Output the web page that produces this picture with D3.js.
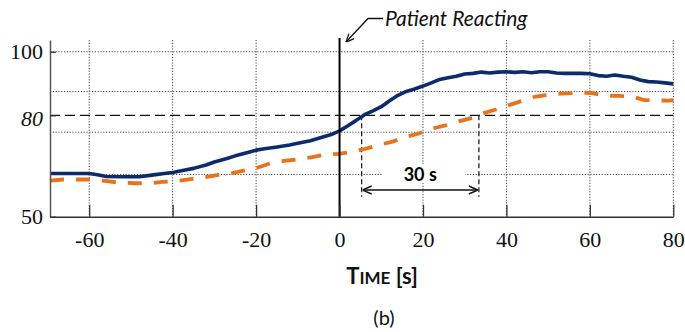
<!DOCTYPE html>
<html>
<head>
<meta charset="utf-8">
<script src="https://cdn.jsdelivr.net/npm/d3@7"></script>
<style>
body { margin: 0; background: #fff; }
</style>
</head>
<body>
<div id="chart"></div>
<script>
// time [s] / value pairs
var navyT = [-69.4, -65, -60, -58, -56, -52, -48, -45, -42, -40, -37, -35, -32, -30, -27, -25, -22, -20, -18, -15, -12, -10, -7, -5, -2, 0, 2, 4, 6, 8, 10, 12, 14, 16, 18, 20, 22, 24, 26, 28, 30, 32, 34, 36, 38, 40, 42, 44, 46, 48, 50, 52, 54, 56, 58, 60, 62, 64, 66, 68, 70, 72, 74, 76, 78, 80];
var navyV = [62.8, 62.8, 62.8, 62.4, 61.9, 61.8, 61.8, 62.3, 62.8, 63.1, 63.8, 64.3, 65.3, 66.2, 67.2, 68.0, 69.0, 69.7, 70.1, 70.6, 71.2, 71.7, 72.5, 73.2, 74.3, 75.4, 76.9, 78.5, 80.2, 81.4, 82.7, 84.6, 86.3, 87.5, 88.3, 89.2, 90.2, 91.3, 91.8, 92.3, 93.0, 93.2, 93.6, 93.3, 93.6, 93.7, 93.5, 93.7, 93.4, 93.7, 93.7, 93.3, 93.2, 93.2, 93.2, 93.1, 92.5, 92.3, 92.7, 92.3, 92.0, 91.1, 90.6, 90.5, 90.2, 89.9];

var orangeT = [-69.4, -66.2, -60, -55.7, -53, -49, -45.4, -42.5, -39.4, -36.5, -33.4, -29.3, -25.7, -23, -19.7, -16.6, -13.4, -10, -6.5, -3.8, -0.2, 3.1, 6.2, 9.4, 12.7, 15.8, 19, 22.3, 25.4, 28.6, 31.9, 34.6, 37.9, 40.6, 43.9, 47, 50.6, 53, 56.6, 59, 60.7, 63.4, 67, 69.9, 73, 75.8, 79, 80];
var orangeV = [60.7, 61.0, 61.0, 60.5, 60.1, 59.9, 59.9, 60.3, 60.5, 61.0, 61.5, 62.3, 62.9, 63.6, 64.5, 65.8, 66.5, 67.0, 67.6, 68.3, 68.6, 69.2, 70.1, 71.2, 72.2, 73.6, 74.6, 76.1, 77.0, 78.2, 79.3, 80.7, 82.0, 83.2, 84.6, 85.9, 86.5, 86.8, 87.0, 87.1, 87.0, 86.2, 86.1, 86.0, 84.8, 84.7, 84.6, 84.8];

var xTicks = [-60, -40, -20, 0, 20, 40, 60, 80];
var yTicks = [50, 80, 100];
var yGrid = [62.5, 75, 87.5, 100];
var threshold = 80;
var reactT = 0;
var span = [5.3, 33.4];   // 30 s delay annotation

var width = 685, height = 332;

var svg = d3.select("#chart")
  .append("svg")
    .attr("width", width)
    .attr("height", height);

var x = d3.scaleLinear()
  .domain([-69.4, 80])
  .range([50, 673.3]);

// axis is not evenly spaced: 50 / 80 / 100 pinned where the figure has them
var y = d3.scaleLinear()
  .domain([50, 80, 103.7])
  .range([216.7, 115.3, 40]);

var dotted = "1.2,1.6";

// vertical grid
svg.selectAll(".vgrid")
  .data(xTicks.filter(function(d) { return d != reactT; }))
  .enter()
  .append("line")
    .attr("x1", function(d) { return x(d); })
    .attr("x2", function(d) { return x(d); })
    .attr("y1", y(103.7))
    .attr("y2", y(50))
    .attr("stroke", "#444")
    .attr("stroke-width", 1)
    .attr("stroke-dasharray", dotted);

// horizontal grid
svg.selectAll(".hgrid")
  .data(yGrid)
  .enter()
  .append("line")
    .attr("x1", x(-69.4))
    .attr("x2", x(80))
    .attr("y1", function(d) { return y(d); })
    .attr("y2", function(d) { return y(d); })
    .attr("stroke", "#444")
    .attr("stroke-width", 1)
    .attr("stroke-dasharray", dotted);

// threshold line at 80
svg.append("line")
  .attr("x1", x(-69.4))
  .attr("x2", x(80))
  .attr("y1", y(threshold))
  .attr("y2", y(threshold))
  .attr("stroke", "#111")
  .attr("stroke-width", 1.3)
  .attr("stroke-dasharray", "10,5");

// white box behind the "30 s" label
svg.append("rect")
  .attr("x", 383)
  .attr("y", 164)
  .attr("width", 82)
  .attr("height", 19)
  .attr("fill", "#fff");

// delay markers
svg.selectAll(".delay")
  .data(span)
  .enter()
  .append("line")
    .attr("x1", function(d) { return x(d); })
    .attr("x2", function(d) { return x(d); })
    .attr("y1", y(threshold))
    .attr("y2", y(55.9))
    .attr("stroke", "#111")
    .attr("stroke-width", 1.2)
    .attr("stroke-dasharray", "5,3");

var defs = svg.append("defs");
defs.append("marker")
  .attr("id", "open")
  .attr("viewBox", "0 0 10 10")
  .attr("refX", 10)
  .attr("refY", 5)
  .attr("markerWidth", 10)
  .attr("markerHeight", 10)
  .attr("markerUnits", "userSpaceOnUse")
  .attr("orient", "auto-start-reverse")
  .append("path")
    .attr("d", "M1,1 L10,5 L1,9")
    .attr("fill", "none")
    .attr("stroke", "#111")
    .attr("stroke-width", 1.4);

svg.append("line")
  .attr("x1", x(span[0]) + 1)
  .attr("x2", x(span[1]) - 1)
  .attr("y1", y(57.9))
  .attr("y2", y(57.9))
  .attr("stroke", "#111")
  .attr("stroke-width", 1.4)
  .attr("marker-start", "url(#open)")
  .attr("marker-end", "url(#open)");

svg.append("text")
  .attr("x", (x(span[0]) + x(span[1])) / 2)
  .attr("y", 180.5)
  .attr("text-anchor", "middle")
  .style("font-family", "Lato, 'Open Sans', sans-serif")
  .style("font-weight", "bold")
  .style("font-size", "18px")
  .text("30 s");

// series
var line = d3.line()
  .x(function(d) { return x(d[0]); })
  .y(function(d) { return y(d[1]); });

svg.append("path")
  .datum(d3.zip(orangeT, orangeV))
  .attr("d", line)
  .attr("fill", "none")
  .attr("stroke", "#e8731a")
  .attr("stroke-width", 3.8)
  .attr("stroke-dasharray", "14,12");

svg.append("path")
  .datum(d3.zip(navyT, navyV))
  .attr("d", line)
  .attr("fill", "none")
  .attr("stroke", "#0c2b6b")
  .attr("stroke-width", 3.6)
  .attr("stroke-linejoin", "round");

// reaction moment
svg.append("line")
  .attr("x1", x(reactT))
  .attr("x2", x(reactT))
  .attr("y1", 38)
  .attr("y2", y(50))
  .attr("stroke", "#000")
  .attr("stroke-width", 2);

// X axis
svg.append("g")
  .attr("transform", "translate(0," + y(50) + ")")
  .call(d3.axisBottom(x).tickValues(xTicks).tickFormat(function(d) { return String(d); })
    .tickSizeInner(-12).tickSizeOuter(0).tickPadding(15))
  .call(function(g) {
    g.select(".domain").attr("stroke", "#333").attr("stroke-width", 1.5);
    g.selectAll(".tick line").attr("stroke", "#333").attr("stroke-width", 1.3);
    g.selectAll("text")
      .attr("fill", "#111")
      .style("font-family", "'Liberation Serif', serif")
      .style("font-size", "22px");
  });

// Y axis
svg.append("g")
  .attr("transform", "translate(" + x(-69.4) + ",0)")
  .call(d3.axisLeft(y).tickValues(yTicks).tickSizeInner(-6).tickSizeOuter(0).tickPadding(7))
  .call(function(g) {
    g.select(".domain").attr("stroke", "#555").attr("stroke-width", 1.5);
    g.selectAll(".tick line").attr("stroke", "#333").attr("stroke-width", 1.3);
    g.selectAll("text")
      .attr("fill", "#111")
      .style("font-family", "'Liberation Serif', serif")
      .style("font-size", "22px")
      .style("font-style", function(d) { return d == threshold ? "italic" : "normal"; })
      .attr("dy", function(d) { return d == threshold ? "0.45em" : "0.32em"; });
  });

// "Patient Reacting" callout
defs.append("marker")
  .attr("id", "callout")
  .attr("viewBox", "0 0 10 10")
  .attr("refX", 10)
  .attr("refY", 5)
  .attr("markerWidth", 9)
  .attr("markerHeight", 9)
  .attr("markerUnits", "userSpaceOnUse")
  .attr("orient", "auto")
  .append("path")
    .attr("d", "M1,1 L10,5 L1,9")
    .attr("fill", "none")
    .attr("stroke", "#111")
    .attr("stroke-width", 1.4);

svg.append("path")
  .attr("d", "M383,18.5 L368,18.5 L346,42")
  .attr("fill", "none")
  .attr("stroke", "#111")
  .attr("stroke-width", 1.3)
  .attr("marker-end", "url(#callout)");

svg.append("text")
  .attr("x", 385)
  .attr("y", 26)
  .style("font-family", "Lato, 'Open Sans', sans-serif")
  .style("font-style", "italic")
  .style("font-size", "21px")
  .attr("fill", "#111")
  .text("Patient Reacting");

// axis title in small caps
var title = svg.append("text")
  .attr("x", 382)
  .attr("y", 284)
  .attr("text-anchor", "middle")
  .style("font-family", "Lato, 'Open Sans', sans-serif")
  .style("font-weight", "bold")
  .attr("fill", "#111");
title.append("tspan").style("font-size", "22px").text("T");
title.append("tspan").style("font-size", "17px").text("IME");
title.append("tspan").style("font-size", "22px").text(" [s]");

svg.append("text")
  .attr("x", 384)
  .attr("y", 325)
  .attr("text-anchor", "middle")
  .style("font-family", "Lato, 'Open Sans', sans-serif")
  .style("font-size", "20px")
  .attr("fill", "#111")
  .text("(b)");
</script>
</body>
</html>
